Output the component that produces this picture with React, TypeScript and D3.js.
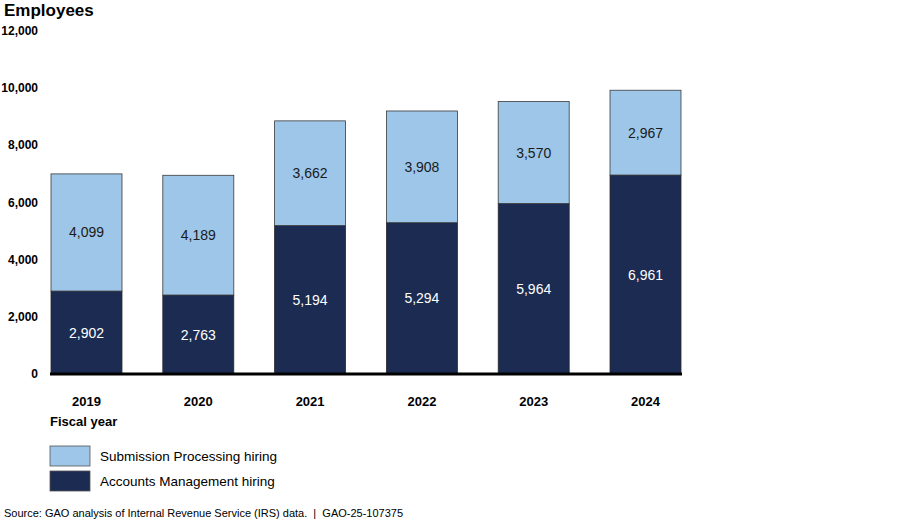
import React, { useEffect, useRef } from 'react';
import * as d3 from 'd3';

const years: string[] = ['2019', '2020', '2021', '2022', '2023', '2024'];
const accountsManagement: number[] = [2902, 2763, 5194, 5294, 5964, 6961];
const submissionProcessing: number[] = [4099, 4189, 3662, 3908, 3570, 2967];
const yTicks: number[] = [0, 2000, 4000, 6000, 8000, 10000, 12000];
const seriesNames: string[] = ['Submission Processing hiring', 'Accounts Management hiring'];

const width = 899;
const height = 522;
const lightBlue = '#9dc6e9';
const navy = '#1b2b52';
const font = 'Arial, "Liberation Sans", sans-serif';

export default function App() {
  const ref = useRef<SVGSVGElement>(null);

  useEffect(() => {
    const svg = d3.select(ref.current);
    svg.selectAll('*').remove();

    const x = d3.scaleBand()
      .domain(years)
      .range([51, 681])
      .paddingInner(0.365)
      .paddingOuter(0);

    const y = d3.scaleLinear()
      .domain([0, 12000])
      .range([374, 31]);

    svg.append('text')
      .attr('x', 4)
      .attr('y', 16)
      .attr('font-family', font)
      .attr('font-size', 17)
      .attr('font-weight', 'bold')
      .text('Employees');

    // y tick labels
    svg.append('g')
      .selectAll('text')
      .data(yTicks)
      .enter()
      .append('text')
      .attr('x', 38)
      .attr('y', (d) => y(d) + 4)
      .attr('text-anchor', 'end')
      .attr('font-family', font)
      .attr('font-size', 12)
      .attr('font-weight', 'bold')
      .text((d) => d3.format(',')(d));

    const bars = svg.append('g')
      .selectAll('g')
      .data(years)
      .enter()
      .append('g');

    bars.append('rect')
      .attr('x', (d) => x(d)!)
      .attr('y', (d, i) => y(accountsManagement[i]))
      .attr('width', x.bandwidth())
      .attr('height', (d, i) => y(0) - y(accountsManagement[i]))
      .attr('fill', navy)
      .attr('stroke', '#2a2a2a')
      .attr('stroke-width', 0.8);

    bars.append('rect')
      .attr('x', (d) => x(d)!)
      .attr('y', (d, i) => y(accountsManagement[i] + submissionProcessing[i]))
      .attr('width', x.bandwidth())
      .attr('height', (d, i) => y(accountsManagement[i]) - y(accountsManagement[i] + submissionProcessing[i]))
      .attr('fill', lightBlue)
      .attr('stroke', '#3a3a3a')
      .attr('stroke-width', 0.8);

    bars.append('text')
      .attr('x', (d) => x(d)! + x.bandwidth() / 2)
      .attr('y', (d, i) => y(accountsManagement[i] / 2) + 5)
      .attr('text-anchor', 'middle')
      .attr('font-family', font)
      .attr('font-size', 14)
      .attr('fill', '#ffffff')
      .text((d, i) => d3.format(',')(accountsManagement[i]));

    bars.append('text')
      .attr('x', (d) => x(d)! + x.bandwidth() / 2)
      .attr('y', (d, i) => y(accountsManagement[i] + submissionProcessing[i] / 2) + 5)
      .attr('text-anchor', 'middle')
      .attr('font-family', font)
      .attr('font-size', 14)
      .attr('fill', '#1a1a1a')
      .text((d, i) => d3.format(',')(submissionProcessing[i]));

    // baseline
    svg.append('line')
      .attr('x1', 50)
      .attr('x2', 682)
      .attr('y1', y(0))
      .attr('y2', y(0))
      .attr('stroke', '#000')
      .attr('stroke-width', 3);

    svg.append('g')
      .selectAll('text')
      .data(years)
      .enter()
      .append('text')
      .attr('x', (d) => x(d)! + x.bandwidth() / 2)
      .attr('y', 406)
      .attr('text-anchor', 'middle')
      .attr('font-family', font)
      .attr('font-size', 13)
      .attr('font-weight', 'bold')
      .text((d) => d);

    svg.append('text')
      .attr('x', 50)
      .attr('y', 426)
      .attr('font-family', font)
      .attr('font-size', 13)
      .attr('font-weight', 'bold')
      .text('Fiscal year');

    const legend = svg.append('g')
      .selectAll('g')
      .data(seriesNames)
      .enter()
      .append('g')
      .attr('transform', (d, i) => `translate(50, ${446 + i * 25})`);

    legend.append('rect')
      .attr('width', 40)
      .attr('height', 20)
      .attr('fill', (d, i) => (i === 0 ? lightBlue : navy))
      .attr('stroke', '#555')
      .attr('stroke-width', 0.8);

    legend.append('text')
      .attr('x', 50)
      .attr('y', 15)
      .attr('font-family', font)
      .attr('font-size', 13.5)
      .text((d) => d);

    svg.append('text')
      .attr('x', 4)
      .attr('y', 517)
      .attr('font-family', font)
      .attr('font-size', 11)
      .style('white-space', 'pre')
      .text('Source: GAO analysis of Internal Revenue Service (IRS) data.  |  GAO-25-107375');
  }, []);

  return (
    <svg
      ref={ref}
      width={width}
      height={height}
      style={{ position: 'absolute', left: 0, top: 0, background: '#fff' }}
    />
  );
}
